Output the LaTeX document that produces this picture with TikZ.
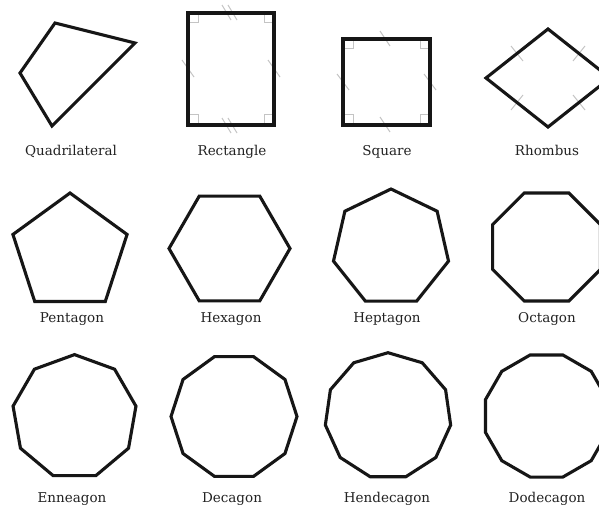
\documentclass[tikz,border=0pt]{standalone}
\usepackage{fontspec}
\setmainfont{DejaVu Serif}
\definecolor{ink}{HTML}{161616}
\definecolor{lbl}{HTML}{222222}
\definecolor{tick}{HTML}{C4C4C4}
\tikzset{
  poly/.style={draw=ink, line width=3.1pt, line join=miter},
  tk/.style={draw=tick, line width=1pt},
  ra/.style={draw=tick, line width=1pt},
  lab/.style={anchor=base, text=lbl, font=\fontsize{13.5}{15}\selectfont, inner sep=0pt}
}
\newcommand{\regpoly}[5]{% center x, center y, R, start angle, n
  \draw[poly] (#1,#2) +(#4:#3)
    \foreach \k in {1,...,\numexpr#5-1\relax} { -- +({#4+\k*360/#5}:#3) } -- cycle;
}
\begin{document}
\begin{tikzpicture}[x=1pt,y=-1pt]
\useasboundingbox[fill=white] (0,0) rectangle (599,508);

% ---------- Row 1 ----------
% Quadrilateral
\draw[poly] (55,23) -- (135,43) -- (52,126) -- (20,73) -- cycle;
\node[lab] (lquad) at (71,155.5) {Quadrilateral};

% Rectangle
\draw[ra] (188,23) -- (198,23) -- (198,13);
\draw[ra] (274,23) -- (264,23) -- (264,13);
\draw[ra] (188,115) -- (198,115) -- (198,125);
\draw[ra] (274,115) -- (264,115) -- (264,125);
\draw[tk] (222,5) -- (231,20);
\draw[tk] (228,5) -- (237,20);
\draw[tk] (222,118) -- (231,133);
\draw[tk] (228,118) -- (237,133);
\draw[tk] (182,60) -- (194,77);
\draw[tk] (268,60) -- (280,77);
\draw[poly] (188,13) rectangle (274,125);
\node[lab] (lrect) at (232,155.5) {Rectangle};

% Square
\draw[ra] (343,49) -- (353,49) -- (353,39);
\draw[ra] (430,49) -- (420,49) -- (420,39);
\draw[ra] (343,115) -- (353,115) -- (353,125);
\draw[ra] (430,115) -- (420,115) -- (420,125);
\draw[tk] (380,31) -- (390,46);
\draw[tk] (380,117) -- (390,132);
\draw[tk] (337,74) -- (349,90);
\draw[tk] (424,74) -- (436,90);
\draw[poly] (343,39) rectangle (430,125);
\node[lab] (lsq) at (387,155.5) {Square};

% Rhombus
\draw[tk] (511,46) -- (523,61);
\draw[tk] (585,46) -- (573,61);
\draw[tk] (511,110) -- (523,95);
\draw[tk] (585,110) -- (573,95);
\draw[poly] (486,78) -- (548,29) -- (610,78) -- (548,127) -- cycle;
\node[lab] (lrh) at (547,155.5) {Rhombus};

% ---------- Row 2 ----------
\regpoly{70}{253}{60}{-90}{5}
\node[lab] (lpent) at (72,322) {Pentagon};
\regpoly{229.5}{248.5}{60.5}{0}{6}
\node[lab] (lhex) at (231,322) {Hexagon};
\regpoly{391}{248}{59}{-90}{7}
\node[lab] (lhep) at (387,322) {Heptagon};
\regpoly{546.5}{247}{58.4}{22.5}{8}
\node[lab] (loct) at (547,322) {Octagon};

% ---------- Row 3 ----------
\regpoly{74.5}{417}{62.4}{-90}{9}
\node[lab] (lenn) at (72,502) {Enneagon};
\regpoly{234}{416.5}{63}{0}{10}
\node[lab] (ldec) at (232,502) {Decagon};
\regpoly{388}{416}{63.3}{-90}{11}
\node[lab] (lhen) at (387,502) {Hendecagon};
\regpoly{546.5}{416}{63.2}{15}{12}
\node[lab] (ldod) at (547,502) {Dodecagon};
\end{tikzpicture}
\end{document}
